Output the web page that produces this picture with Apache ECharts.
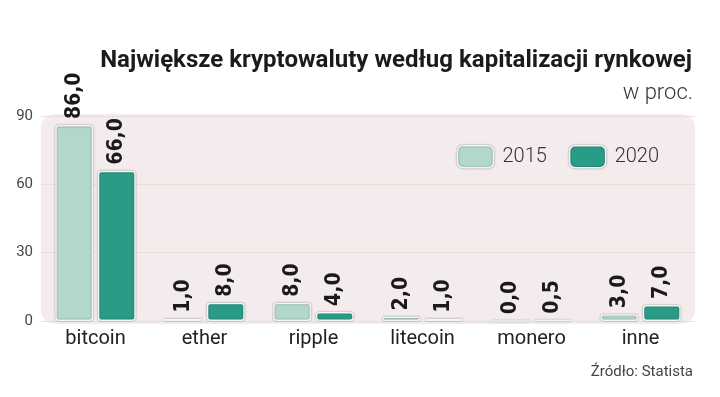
<!DOCTYPE html>
<html>
<head>
<meta charset="utf-8">
<script src="https://cdn.jsdelivr.net/npm/echarts@6/dist/echarts.min.js"></script>
<style>
  html, body { margin: 0; padding: 0; background: #fff; }
  #chart { width: 720px; height: 397px; }
</style>
</head>
<body>
<div id="chart"></div>
<script>
const categories = ['bitcoin', 'ether', 'ripple', 'litecoin', 'monero', 'inne'];
const values2015 = [86, 1, 8, 2, 0, 3];
const values2020 = [66, 8, 4, 1, 0.5, 7];
const seriesNames = ['2015', '2020'];

const light = '#b2d7cb';
const teal = '#2a9b86';

const chart = echarts.init(document.getElementById('chart'));

function fmt(p) {
  return p.value.toFixed(1).replace('.', ',');
}

function barSeries(name, data, color) {
  return {
    name: name,
    type: 'bar',
    data: data,
    barWidth: 38,
    barGap: '12%',
    itemStyle: {
      color: color,
      borderColor: '#f4f4f4',
      borderWidth: 1.5,
      borderRadius: 3,
      shadowColor: 'rgba(0,0,0,0.35)',
      shadowBlur: 2
    },
    label: {
      show: true,
      position: 'top',
      rotate: 90,
      align: 'left',
      verticalAlign: 'middle',
      distance: 6,
      formatter: fmt,
      fontFamily: 'DejaVu Sans Condensed',
      fontWeight: 'bold',
      fontSize: 21,
      color: '#1a1a1a'
    }
  };
}

chart.setOption({
  animation: false,
  textStyle: { fontFamily: 'Roboto' },
  title: [{
    text: 'Największe kryptowaluty według kapitalizacji rynkowej',
    right: 23,
    top: 44,
    textStyle: { fontFamily: 'Roboto', fontWeight: 'bold', fontSize: 24, color: '#1b1b1b' }
  }, {
    text: 'w proc.',
    right: 22,
    top: 77,
    textStyle: { fontFamily: 'Roboto', fontWeight: 300, fontSize: 22, color: '#333' }
  }, {
    text: 'Źródło: Statista',
    right: 22,
    top: 360,
    textStyle: { fontFamily: 'Roboto', fontWeight: 'normal', fontSize: 15, color: '#444' }
  }],
  graphic: [{
    type: 'rect',
    z: -1,
    shape: { x: 41, y: 114, width: 654, height: 210, r: 14 },
    style: { fill: '#f4ecec' }
  }],
  legend: {
    data: seriesNames,
    right: 56,
    top: 140,
    itemWidth: 36,
    itemHeight: 22,
    itemGap: 22,
    itemStyle: { borderColor: '#f4f4f4', borderWidth: 1.5, borderRadius: 4, shadowColor: 'rgba(0,0,0,0.35)', shadowBlur: 2 },
    textStyle: { fontFamily: 'Roboto', fontWeight: 300, fontSize: 20, color: '#333', padding: [0, 0, 0, 4] }
  },
  grid: { left: 41, right: 25, top: 116, bottom: 76 },
  xAxis: {
    type: 'category',
    data: categories,
    axisLine: { show: false },
    axisTick: { show: false },
    axisLabel: { fontFamily: 'Roboto', fontSize: 20, color: '#222', margin: 8 }
  },
  yAxis: {
    type: 'value',
    min: 0,
    max: 90,
    interval: 30,
    axisLine: { show: false },
    axisTick: { show: false },
    axisLabel: { fontFamily: 'Roboto', fontSize: 15, color: '#444', margin: 8 },
    splitLine: { show: true, lineStyle: { color: '#e8dcdd', width: 1 } }
  },
  series: [
    barSeries(seriesNames[0], values2015, light),
    barSeries(seriesNames[1], values2020, teal)
  ]
});
</script>
</body>
</html>
